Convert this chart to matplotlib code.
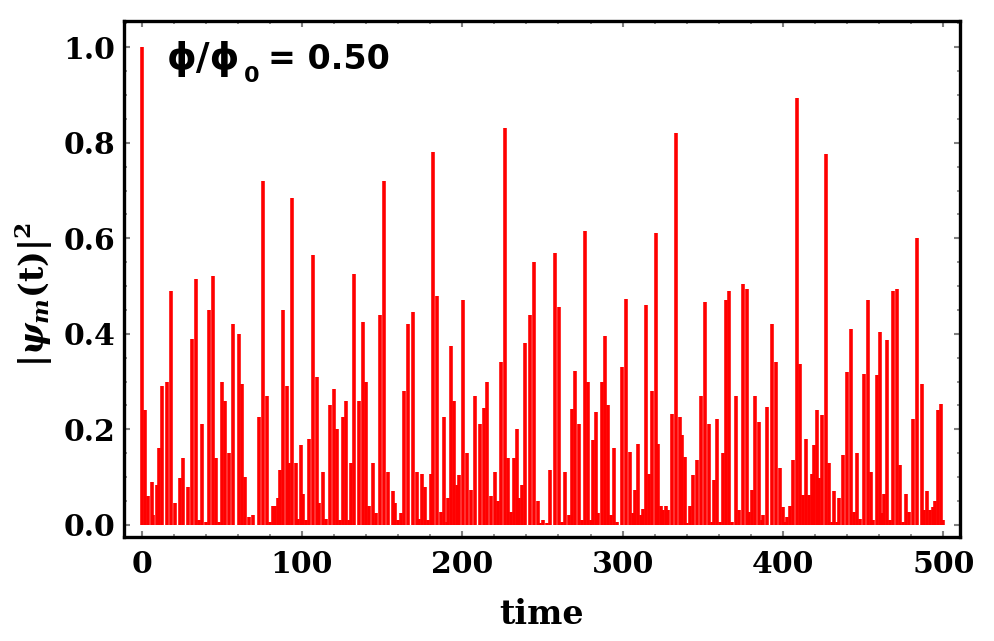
import matplotlib
matplotlib.use("Agg")
from matplotlib import pyplot as plt
from matplotlib.ticker import MultipleLocator
import numpy as np

# |psi_m(t)|^2 for phi/phi0 = 0.50, peaks
times = [0, 2.1, 4.1, 6.2, 7.3, 9.3, 11.0, 12.7, 15.8, 18.3, 20.8, 23.9, 26.0, 29.1,
         31.4, 33.7, 35.7, 37.8, 39.9, 42.2, 44.3, 46.1, 48.2, 49.9, 52.0, 54.7, 57.0,
         60.5, 62.8, 64.7, 67.0, 69.5, 73.0, 75.9, 78.0, 80.0, 81.7, 83.2, 84.8, 86.3,
         88.0, 90.4, 92.1, 94.0, 96.0, 97.7, 99.2, 100.8, 102.5, 104.4, 106.6, 109.1,
         110.8, 112.9, 115.0, 117.4, 119.7, 122.0, 123.7, 125.4, 127.6, 129.5, 130.5,
         132.4, 135.7, 138.2, 140.1, 141.7, 144.5, 146.1, 148.6, 150.9, 153.8, 156.5,
         158.0, 160.0, 161.7, 163.7, 166.4, 169.4, 171.5, 173.2, 174.6, 176.5, 178.4,
         180.3, 181.9, 184.2, 186.5, 188.3, 190.2, 191.3, 192.9, 195.0, 196.5, 197.9,
         200.4, 202.7, 205.4, 208.1, 211.0, 213.5, 215.6, 217.6, 220.2, 222.0, 224.1,
         226.6, 228.5, 230.4, 232.5, 234.0, 235.6, 237.1, 239.0, 242.4, 245.0, 247.2,
         248.6, 250.3, 252.8, 255.0, 257.8, 260.3, 262.0, 264.0, 266.7, 268.6, 270.5,
         272.8, 274.4, 276.3, 278.4, 280.0, 281.3, 283.2, 284.8, 286.9, 289.0, 290.9,
         292.5, 294.8, 296.7, 299.4, 301.9, 304.4, 306.2, 307.5, 309.5, 311.2, 312.5,
         314.5, 316.5, 318.1, 320.6, 322.3, 324.0, 325.4, 326.9, 328.5, 331.0, 333.1,
         335.5, 337.3, 339.0, 340.3, 342.0, 343.7, 346.2, 348.7, 351.6, 353.8, 355.9,
         356.9, 358.8, 360.7, 362.6, 364.5, 366.5, 368.4, 370.5, 372.3, 375.3, 377.4,
         379.0, 380.7, 382.8, 384.8, 386.7, 387.8, 389.8, 393.2, 395.9, 398.1, 399.8,
         401.3, 402.3, 404.4, 406.5, 408.6, 410.9, 412.7, 414.6, 416.2, 417.9, 419.3,
         421.0, 422.7, 424.6, 426.8, 429.0, 430.4, 431.8, 433.5, 435.2, 437.2, 439.7,
         442.2, 444.3, 446.0, 448.0, 450.6, 452.8, 454.7, 456.4, 458.4, 460.3, 462.0,
         463.2, 465.1, 466.8, 468.8, 471.0, 473.1, 474.7, 476.8, 478.9, 481.3, 483.8,
         486.5, 488.0, 489.6, 491.7, 493.4, 495.0, 496.7, 498.8, 500.0]
prob = [1.0, 0.24, 0.06, 0.09, 0.02, 0.083, 0.16, 0.29, 0.30, 0.49, 0.045, 0.097, 0.14, 0.08,
        0.39, 0.515, 0.01, 0.21, 0.006, 0.45, 0.52, 0.14, 0.006, 0.30, 0.26, 0.15, 0.42,
        0.40, 0.295, 0.10, 0.017, 0.02, 0.225, 0.72, 0.27, 0.005, 0.04, 0.04, 0.055, 0.115,
        0.45, 0.29, 0.13, 0.685, 0.13, 0.013, 0.166, 0.065, 0.01, 0.18, 0.565, 0.31,
        0.045, 0.11, 0.013, 0.25, 0.285, 0.2, 0.01, 0.225, 0.26, 0.01, 0.13,
        0.525, 0.26, 0.425, 0.30, 0.04, 0.13, 0.024, 0.44, 0.72, 0.11, 0.07,
        0.045, 0.01, 0.024, 0.28, 0.42, 0.445, 0.11, 0.013, 0.107, 0.08, 0.01,
        0.107, 0.78, 0.48, 0.027, 0.225, 0.006, 0.055, 0.375, 0.26, 0.083, 0.104,
        0.47, 0.15, 0.072, 0.27, 0.21, 0.245, 0.30, 0.06, 0.11, 0.05, 0.34,
        0.83, 0.14, 0.027, 0.14, 0.2, 0.055, 0.083, 0.38, 0.44, 0.55, 0.05,
        0.003, 0.01, 0.004, 0.114, 0.57, 0.455, 0.006, 0.11, 0.02, 0.243, 0.323,
        0.21, 0.01, 0.615, 0.30, 0.01, 0.177, 0.236, 0.024, 0.30, 0.396, 0.25,
        0.02, 0.16, 0.006, 0.33, 0.473, 0.152, 0.024, 0.072, 0.17, 0.02, 0.034,
        0.46, 0.107, 0.28, 0.61, 0.17, 0.04, 0.03, 0.04, 0.03, 0.232, 0.82,
        0.225, 0.187, 0.142, 0.003, 0.04, 0.104, 0.135, 0.27, 0.466, 0.21, 0.006,
        0.093, 0.222, 0.006, 0.15, 0.47, 0.49, 0.006, 0.27, 0.03, 0.505, 0.494,
        0.027, 0.072, 0.27, 0.215, 0.01, 0.02, 0.246, 0.42, 0.34, 0.118, 0.038,
        0.006, 0.017, 0.04, 0.135, 0.894, 0.337, 0.062, 0.18, 0.062, 0.107, 0.166,
        0.24, 0.097, 0.23, 0.776, 0.13, 0.006, 0.07, 0.006, 0.055, 0.146, 0.32,
        0.41, 0.027, 0.15, 0.013, 0.316, 0.47, 0.11, 0.01, 0.313, 0.403, 0.024,
        0.065, 0.386, 0.01, 0.49, 0.494, 0.125, 0.006, 0.065, 0.027, 0.222, 0.60,
        0.295, 0.03, 0.07, 0.03, 0.038, 0.05, 0.24, 0.253, 0.01]

plt.rcParams['mathtext.fontset'] = 'dejavuserif'

fig = plt.figure(figsize=(9.94, 6.41), dpi=100)
ax = fig.add_axes([0.1247, 0.1622, 0.8411, 0.8055])

ax.vlines(times, 0, prob, color='#ff0000', lw=2.6)

ax.set_xlim(-11.0, 510.4)
ax.set_ylim(-0.0257, 1.0556)

ax.xaxis.set_major_locator(MultipleLocator(100))
ax.xaxis.set_minor_locator(MultipleLocator(20))
ax.yaxis.set_major_locator(MultipleLocator(0.2))
ax.yaxis.set_minor_locator(MultipleLocator(0.05))
ax.yaxis.set_major_formatter(matplotlib.ticker.FormatStrFormatter('%.1f'))

ax.tick_params(which='both', direction='in', top=True, right=True, color='#808080')
ax.tick_params(which='major', length=4, width=1.5, labelsize=21.5, pad=6)
ax.tick_params(which='minor', length=2.5, width=1.2)
ax.tick_params(axis='x', which='major', pad=9)
for lab in ax.get_xticklabels() + ax.get_yticklabels():
    lab.set_family('DejaVu Serif')
    lab.set_weight('bold')

for s in ax.spines.values():
    s.set_linewidth(2.4)
    s.set_color('black')

ax.set_xlabel('time', family='DejaVu Serif', weight='bold', fontsize=24)
ax.xaxis.set_label_coords(0.5, -0.118)
ax.set_ylabel(r'$\mathbf{|}\mathbfit{\psi_m}\mathbf{(t)|}^{\mathbf{2}}$', fontsize=24)
ax.yaxis.set_label_coords(-0.083, 0.469)

# phi/phi0 label in the corner
ax.text(0.051, 0.906, 'ϕ/ϕ', transform=ax.transAxes, family='DejaVu Sans',
        weight='bold', fontsize=27, va='baseline')
ax.text(0.143, 0.881, '0', transform=ax.transAxes, family='DejaVu Sans',
        weight='bold', fontsize=16, va='baseline')
ax.text(0.172, 0.906, '= 0.50', transform=ax.transAxes, family='DejaVu Sans',
        weight='bold', fontsize=24, va='baseline')

fig.savefig('out.png', dpi=100)
